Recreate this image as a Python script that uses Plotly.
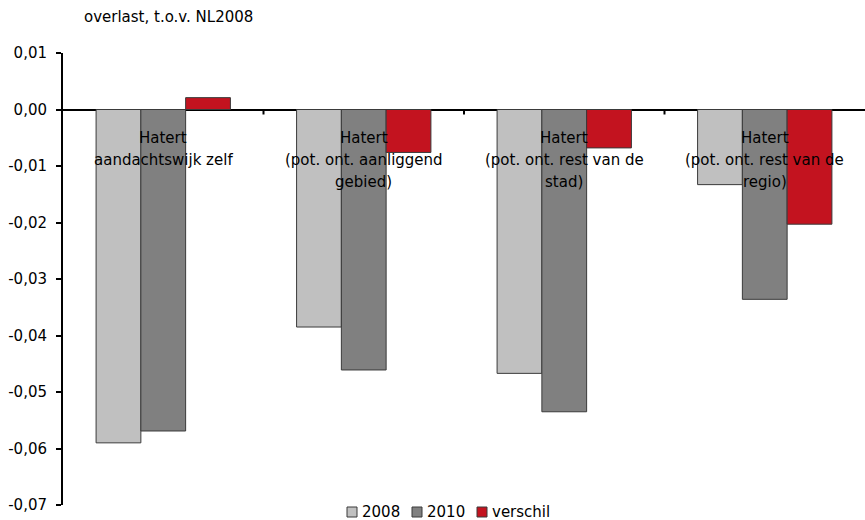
import plotly.graph_objects as go

# Overlast relative to NL2008, per area of Hatert
categories = ["c1", "c2", "c3", "c4"]
label_lines = [
    ["Hatert", "aandachtswijk zelf"],
    ["Hatert", "(pot. ont. aanliggend", "gebied)"],
    ["Hatert", "(pot. ont. rest van de", "stad)"],
    ["Hatert", "(pot. ont. rest van de", "regio)"],
]
series_names = ["2008", "2010", "verschil"]
values_2008 = [-0.0590, -0.0385, -0.0467, -0.0133]
values_2010 = [-0.0569, -0.0461, -0.0535, -0.0336]
values_verschil = [0.0021, -0.0076, -0.0068, -0.0203]

y_ticks = [0.01, 0.0, -0.01, -0.02, -0.03, -0.04, -0.05, -0.06, -0.07]
y_tick_text = ["0,01", "0,00", "-0,01", "-0,02", "-0,03", "-0,04", "-0,05", "-0,06", "-0,07"]

FONT = "DejaVu Sans"
FS = 15
colors = ["#C0C0C0", "#808080", "#C3131F"]
outline = dict(color="#3a3a3a", width=1)

fig = go.Figure()
for name, vals, col in zip(series_names,
                           [values_2008, values_2010, values_verschil], colors):
    fig.add_bar(x=categories, y=vals, name=name,
                marker=dict(color=col, line=outline))

# category labels drawn just under the zero line
annotations = []
for cat, lines in zip(categories, label_lines):
    for i, line in enumerate(lines):
        annotations.append(dict(
            x=cat, y=0, xref="x", yref="y", text=line, showarrow=False,
            xanchor="center", yanchor="middle", yshift=-28 - 22 * i,
            font=dict(family=FONT, size=FS, color="#000000"),
        ))

L, T, R, B = 63, 53, 865, 505
plot_w = R - L
plot_h = B - T


def px_x(px):
    return (px - L) / plot_w


def px_y(py):
    return (B - py) / plot_h


annotations.append(dict(
    x=px_x(82), y=px_y(17), xref="paper", yref="paper",
    text="overlast, t.o.v. NL2008", showarrow=False,
    xanchor="left", yanchor="middle",
    font=dict(family=FONT, size=FS, color="#000000"),
))

# small tick marks between categories on the zero line
shapes = []
for xb in [0.5, 1.5, 2.5]:
    shapes.append(dict(
        type="line", xref="x", yref="y", x0=xb, x1=xb,
        ysizemode="pixel", yanchor=0, y0=0, y1=-5,
        line=dict(color="#000000", width=2),
    ))

# compact legend row below the plot: swatch + name
legend_y = 512
legend_x = [347, 412, 477]
for name, col, lx in zip(series_names, colors, legend_x):
    shapes.append(dict(
        type="rect", xref="paper", yref="paper",
        x0=px_x(lx), x1=px_x(lx + 10), y0=px_y(legend_y + 5), y1=px_y(legend_y - 5),
        fillcolor=col, line=dict(color="#3a3a3a", width=1),
    ))
    annotations.append(dict(
        x=px_x(lx + 13), y=px_y(legend_y), xref="paper", yref="paper",
        text=name, showarrow=False, xanchor="left", yanchor="middle",
        font=dict(family=FONT, size=FS, color="#000000"),
    ))

fig.update_layout(
    width=865, height=520,
    margin=dict(l=L, r=865 - R, t=T, b=520 - B, autoexpand=False),
    paper_bgcolor="#FFFFFF", plot_bgcolor="#FFFFFF",
    barmode="group", bargap=0.33, bargroupgap=0,
    showlegend=False,
    annotations=annotations,
    shapes=shapes,
    font=dict(family=FONT, size=FS, color="#000000"),
)
fig.update_xaxes(range=[-0.5, 3.5], showticklabels=False, ticks="",
                 showgrid=False, showline=False, zeroline=False)
fig.update_yaxes(range=[-0.07, 0.01], tickvals=y_ticks, ticktext=y_tick_text,
                 ticks="outside", ticklen=5, tickwidth=2, tickcolor="#000000",
                 showline=True, linecolor="#000000", linewidth=2,
                 showgrid=False, zeroline=True, zerolinecolor="#000000",
                 zerolinewidth=2, ticklabelstandoff=6,
                 tickfont=dict(family=FONT, size=FS, color="#000000"))

fig.write_html("out.html")
